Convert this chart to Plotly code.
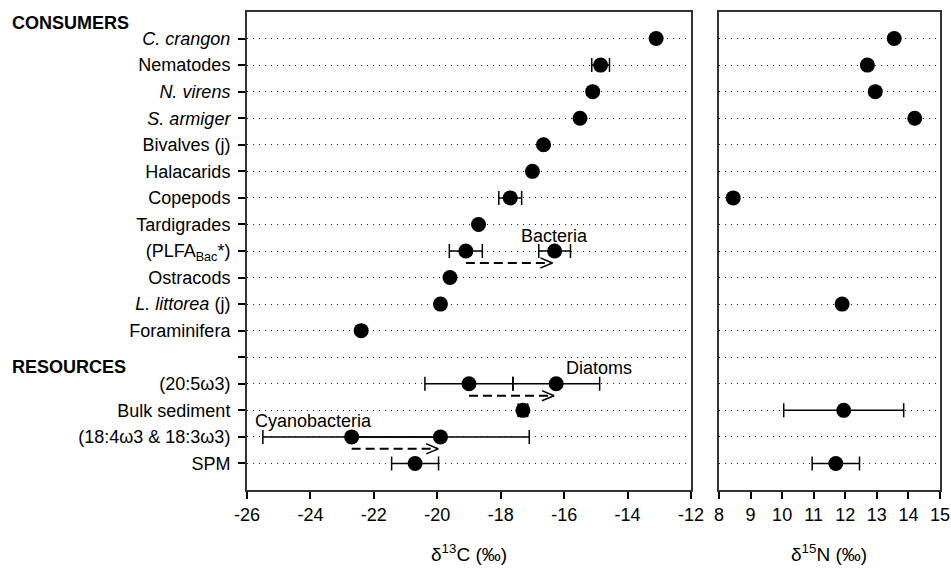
import plotly.graph_objects as go

# ---- data -------------------------------------------------------------
# Row labels, top to bottom (row 13 is an empty spacer between groups)
row_labels = [
    "<i>C. crangon</i>", "Nematodes", "<i>N. virens</i>", "<i>S. armiger</i>",
    "Bivalves (j)", "Halacarids", "Copepods", "Tardigrades",
    "(PLFA<sub>Bac</sub>*)", "Ostracods", "<i>L. littorea</i> (j)", "Foraminifera",
    "", "(20:5ω3)", "Bulk sediment", "(18:4ω3 &amp; 18:3ω3)", "SPM",
]
row_pos = list(range(1, 18))

# δ13C (‰), one point per row
c13_rows = [1, 2, 3, 4, 5, 6, 7, 8, 9, 10, 11, 12, 14, 15, 16, 17]
c13_mean = [-13.1, -14.85, -15.1, -15.5, -16.65, -17.0, -17.7, -18.7,
            -19.1, -19.6, -19.9, -22.4, -19.0, -17.3, -22.7, -20.7]
c13_err = [None, 0.28, None, None, None, None, 0.36, None,
           0.52, None, None, None, 1.39, 0.15, 2.8, 0.74]

# δ13C (‰) of the source-specific marker lipids (arrow targets)
shift_rows = [9, 14, 16]
shift_mean = [-16.3, -16.25, -19.9]
shift_err = [0.5, 1.37, 2.8]
shift_names = ["Bacteria", "Diatoms", "Cyanobacteria"]

# δ15N (‰)
n15_rows = [1, 2, 3, 4, 7, 11, 15, 17]
n15_mean = [13.55, 12.7, 12.95, 14.2, 8.45, 11.9, 11.95, 11.7]
n15_err = [None, None, None, None, None, None, 1.9, 0.75]

c13_ticks = list(range(-26, -11, 2))
n15_ticks = list(range(8, 16))

# ---- style ------------------------------------------------------------
FONT = "Liberation Sans, Arial, sans-serif"
BLACK = "#000000"
AXIS = "#333333"
MARK = dict(color=BLACK, size=15)
ERR = dict(type="data", color=BLACK, thickness=1.5, width=7)
ARROW_DY = 0.45      # arrow drawn just below its row (rows)
TIP_GAP = 0.07       # arrow tip stops short of the target marker (δ units)
HEAD_LEN = 0.38      # arrow head length (δ units)
HEAD_HALF = 0.19     # arrow head half height (rows)
LABEL_DY = 0.58      # source label sits above its row (rows)
# where each source label is hung: on the target marker, or on the lower
# end of the error bar of the row's first point
label_place = {
    "Bacteria": dict(ref="target", dx=0.0, anchor="center"),
    "Diatoms": dict(ref="target", dx=0.25, anchor="left"),
    "Cyanobacteria": dict(ref="row_low", dx=-0.32, anchor="left"),
}

fig = go.Figure()

# δ13C points
fig.add_trace(go.Scatter(
    x=c13_mean, y=c13_rows, mode="markers", marker=MARK,
    error_x=dict(array=c13_err, **ERR), xaxis="x", yaxis="y",
    showlegend=False, hoverinfo="skip",
))
fig.add_trace(go.Scatter(
    x=shift_mean, y=shift_rows, mode="markers", marker=MARK,
    error_x=dict(array=shift_err, **ERR), xaxis="x", yaxis="y",
    showlegend=False, hoverinfo="skip",
))

# dashed arrows from the bulk value to the marker-lipid value
c13_by_row = dict(zip(c13_rows, c13_mean))
c13_err_by_row = dict(zip(c13_rows, c13_err))
for r, m in zip(shift_rows, shift_mean):
    start = c13_by_row[r]
    tip = m - TIP_GAP
    ya = r + ARROW_DY
    fig.add_trace(go.Scatter(
        x=[start, tip], y=[ya, ya], mode="lines",
        line=dict(color=BLACK, width=2, dash="9px,5px"),
        xaxis="x", yaxis="y", showlegend=False, hoverinfo="skip",
    ))
    fig.add_trace(go.Scatter(
        x=[tip - HEAD_LEN, tip, tip - HEAD_LEN],
        y=[ya - HEAD_HALF, ya, ya + HEAD_HALF], mode="lines",
        line=dict(color=BLACK, width=1.5),
        xaxis="x", yaxis="y", showlegend=False, hoverinfo="skip",
    ))

# δ15N points
fig.add_trace(go.Scatter(
    x=n15_mean, y=n15_rows, mode="markers", marker=MARK,
    error_x=dict(array=n15_err, **ERR), xaxis="x2", yaxis="y2",
    showlegend=False, hoverinfo="skip",
))

annotations = []
for name, r, m in zip(shift_names, shift_rows, shift_mean):
    p = label_place[name]
    if p["ref"] == "target":
        base = m
    else:
        base = c13_by_row[r] - (c13_err_by_row[r] or 0)
    annotations.append(dict(
        x=base + p["dx"], y=r - LABEL_DY, xref="x", yref="y",
        text=name, showarrow=False, xanchor=p["anchor"], yanchor="middle",
        font=dict(family=FONT, size=18, color=BLACK),
    ))

W, H = 951, 570
L0, L1 = 247 / W, 691 / W
R0, R1 = 719 / W, 940 / W
B, T = 1 - 490 / H, 1 - 12 / H

for txt, yy in [("CONSUMERS", 23), ("RESOURCES", 367)]:
    annotations.append(dict(
        x=10 / W, y=1 - yy / H, xref="paper", yref="paper",
        text=f"<b>{txt}</b>", showarrow=False, xanchor="left", yanchor="middle",
        font=dict(family=FONT, size=18, color=BLACK),
    ))
for txt, x0, x1 in [("δ<sup>13</sup>C (‰)", L0, L1), ("δ<sup>15</sup>N (‰)", R0, R1)]:
    annotations.append(dict(
        x=(x0 + x1) / 2, y=1 - 553 / H, xref="paper", yref="paper",
        text=txt, showarrow=False, xanchor="center", yanchor="middle",
        font=dict(family=FONT, size=19, color=BLACK),
    ))

xcommon = dict(
    showline=True, linecolor=AXIS, linewidth=2, mirror=True,
    ticks="outside", ticklen=7, tickwidth=1.5, tickcolor=BLACK,
    showgrid=False, zeroline=False, automargin=False,
    tickfont=dict(family=FONT, size=18, color=BLACK),
)
ycommon = dict(
    range=[18, 0], tickmode="array", tickvals=row_pos,
    showline=True, linecolor=AXIS, linewidth=2, mirror=True,
    showgrid=True, gridcolor="#222222", gridwidth=1, griddash="1px,5px",
    zeroline=False, automargin=False,
)

fig.update_layout(
    width=W, height=H,
    margin=dict(l=0, r=0, t=0, b=0),
    paper_bgcolor="white", plot_bgcolor="white",
    template=None,
    font=dict(family=FONT, size=18, color=BLACK),
    xaxis=dict(domain=[L0, L1], range=[-26, -12], tickmode="array",
               tickvals=c13_ticks, ticktext=[str(v) for v in c13_ticks],
               anchor="y", **xcommon),
    xaxis2=dict(domain=[R0, R1], range=[8, 15], tickmode="array",
                tickvals=n15_ticks, ticktext=[str(v) for v in n15_ticks],
                anchor="y2", **xcommon),
    yaxis=dict(domain=[B, T], anchor="x", ticktext=row_labels,
               ticks="outside", ticklen=7, tickwidth=1.5, tickcolor=BLACK,
               ticklabelstandoff=4,
               tickfont=dict(family=FONT, size=18, color=BLACK), **ycommon),
    yaxis2=dict(domain=[B, T], anchor="x2", ticks="", showticklabels=False,
                **ycommon),
    annotations=annotations,
    showlegend=False,
)

fig.write_html("out.html")
